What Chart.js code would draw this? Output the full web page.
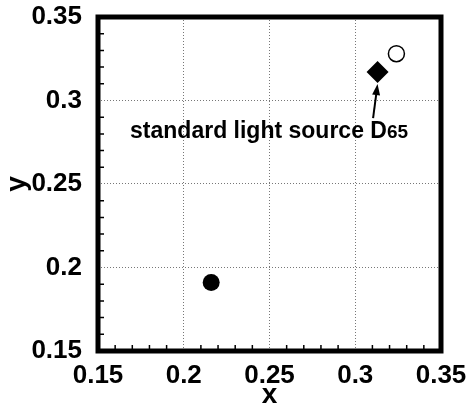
<!DOCTYPE html>
<html>
<head>
<meta charset="utf-8">
<script src="https://cdn.jsdelivr.net/npm/chart.js@4.4.1/dist/chart.umd.min.js"></script>
<style>
  html, body { margin: 0; padding: 0; background: #fff; }
  canvas { display: block; }
</style>
</head>
<body>
<canvas id="chromaChart" width="474" height="406"></canvas>
<script>
// chromaticity points (x, y)
const filledPoint = [{ x: 0.216, y: 0.191 }];
const d65Point = [{ x: 0.313, y: 0.317 }];
const openPoint = [{ x: 0.324, y: 0.328 }];

const majorTicks = [0.15, 0.2, 0.25, 0.3, 0.35];
const tickLabels = ['0.15', '0.2', '0.25', '0.3', '0.35'];
const minorTicks = [0.16, 0.17, 0.18, 0.19, 0.21, 0.22, 0.23, 0.24, 0.26, 0.27, 0.28, 0.29, 0.31, 0.32, 0.33, 0.34];

// annotation: text anchor and arrow tail, in data units
const noteText = 'standard light source D';
const noteSub = '65';
const noteAt = { x: 0.1687, y: 0.2775 };
const arrowFrom = { x: 0.3104, y: 0.2895 };

const FONT = '"Liberation Sans", Arial, Helvetica, sans-serif';

function labelFor(value) {
    const i = majorTicks.findIndex(t => Math.abs(t - value) < 1e-9);
    return i >= 0 ? tickLabels[i] : '';
}

const framePlugin = {
    id: 'frame',
    afterDatasetsDraw(chart) {
        const { ctx, chartArea: a, scales } = chart;
        ctx.save();
        // minor ticks, pointing inward
        ctx.strokeStyle = '#000';
        ctx.lineWidth = 1.5;
        ctx.beginPath();
        minorTicks.forEach(v => {
            const px = scales.x.getPixelForValue(v);
            ctx.moveTo(px, a.bottom);
            ctx.lineTo(px, a.bottom - 6);
            const py = scales.y.getPixelForValue(v);
            ctx.moveTo(a.left, py);
            ctx.lineTo(a.left + 6, py);
        });
        ctx.stroke();
        // thick frame
        ctx.lineWidth = 5;
        ctx.strokeRect(a.left, a.top, a.right - a.left, a.bottom - a.top);

        // annotation text
        const tx = scales.x.getPixelForValue(noteAt.x);
        const ty = scales.y.getPixelForValue(noteAt.y);
        ctx.fillStyle = '#000';
        ctx.textBaseline = 'alphabetic';
        ctx.textAlign = 'left';
        ctx.font = 'bold 23px ' + FONT;
        ctx.fillText(noteText, tx, ty);
        const w = ctx.measureText(noteText).width;
        ctx.font = 'bold 19px ' + FONT;
        ctx.fillText(noteSub, tx + w, ty);

        // arrow to the D65 marker
        const meta = chart.getDatasetMeta(1).data[0];
        const hx = meta.x, hy = meta.y + 12;
        const fx = scales.x.getPixelForValue(arrowFrom.x);
        const fy = scales.y.getPixelForValue(arrowFrom.y);
        const ang = Math.atan2(hy - fy, hx - fx);
        ctx.lineWidth = 2;
        ctx.beginPath();
        ctx.moveTo(fx, fy);
        ctx.lineTo(hx - 9 * Math.cos(ang), hy - 9 * Math.sin(ang));
        ctx.stroke();
        ctx.beginPath();
        ctx.moveTo(hx, hy);
        ctx.lineTo(hx - 11 * Math.cos(ang) + 4 * Math.sin(ang), hy - 11 * Math.sin(ang) - 4 * Math.cos(ang));
        ctx.lineTo(hx - 11 * Math.cos(ang) - 4 * Math.sin(ang), hy - 11 * Math.sin(ang) + 4 * Math.cos(ang));
        ctx.closePath();
        ctx.fill();
        ctx.restore();
    }
};

const ctx = document.getElementById('chromaChart').getContext('2d');
const chromaChart = new Chart(ctx, {
    type: 'scatter',
    data: {
        datasets: [
            {
                data: filledPoint,
                pointStyle: 'circle',
                pointRadius: 8.5,
                backgroundColor: '#000',
                borderColor: '#000',
                borderWidth: 0
            },
            {
                data: d65Point,
                pointStyle: 'rectRot',
                pointRadius: 11,
                backgroundColor: '#000',
                borderColor: '#000',
                borderWidth: 0
            },
            {
                data: openPoint,
                pointStyle: 'circle',
                pointRadius: 8,
                backgroundColor: '#fff',
                borderColor: '#000',
                borderWidth: 1.5
            }
        ]
    },
    options: {
        responsive: false,
        animation: false,
        events: [],
        layout: { padding: { left: 0, right: 33, top: 17, bottom: 0 } },
        plugins: {
            legend: { display: false },
            tooltip: { enabled: false }
        },
        scales: {
            x: {
                type: 'linear',
                min: 0.15,
                max: 0.35,
                afterBuildTicks: s => { s.ticks = majorTicks.map(v => ({ value: v })); },
                afterFit: s => { s.height = 55; s.paddingLeft = 0; s.paddingRight = 0; },
                ticks: {
                    color: '#000',
                    padding: 9,
                    autoSkip: false,
                    maxRotation: 0,
                    font: { family: FONT, size: 26, weight: 'bold' },
                    callback: labelFor
                },
                grid: { color: '#777', lineWidth: 1, drawTicks: false },
                border: { display: false, dash: [1, 2] },
                title: {
                    display: true,
                    text: 'x',
                    color: '#000',
                    padding: 0,
                    font: { family: FONT, size: 28, weight: 'bold', lineHeight: 0.8 }
                }
            },
            y: {
                type: 'linear',
                min: 0.15,
                max: 0.35,
                afterBuildTicks: s => { s.ticks = majorTicks.map(v => ({ value: v })); },
                afterFit: s => { s.width = 98; s.paddingTop = 0; s.paddingBottom = 0; },
                ticks: {
                    color: '#000',
                    padding: 16,
                    autoSkip: false,
                    font: { family: FONT, size: 26, weight: 'bold' },
                    callback: labelFor
                },
                grid: { color: '#777', lineWidth: 1, drawTicks: false },
                border: { display: false, dash: [1, 2] },
                title: {
                    display: true,
                    text: 'y',
                    color: '#000',
                    padding: 0,
                    font: { family: FONT, size: 28, weight: 'bold' }
                }
            }
        }
    },
    plugins: [framePlugin]
});
</script>
</body>
</html>
